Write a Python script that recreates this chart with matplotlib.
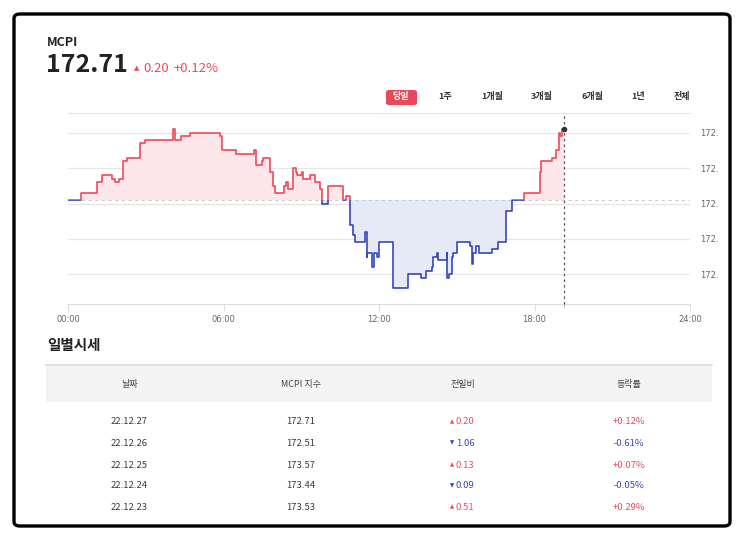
import matplotlib
matplotlib.use("Agg")
import matplotlib.pyplot as plt
from matplotlib.patches import Rectangle, FancyBboxPatch

plt.rcParams['font.family'] = ['Noto Sans CJK KR', 'DejaVu Sans']

W, H = 743, 540

# intraday MCPI (hours, index value)
times = [0.00, 0.49, 1.13, 1.30, 1.68, 1.81, 1.98, 2.12, 2.26, 2.79, 2.97, 4.05, 4.12, 4.35,
         4.70, 5.86, 5.93, 6.48, 7.18, 7.26, 7.47, 7.54, 7.80, 7.90, 7.99, 8.33, 8.40, 8.49,
         8.69, 8.80, 8.85, 9.02, 9.08, 9.34, 9.53, 9.72, 9.80, 10.05, 10.62, 10.73, 10.88,
         10.98, 11.07, 11.46, 11.52, 11.55, 11.74, 11.82, 11.91, 11.99, 12.55, 13.11, 13.61,
         13.81, 14.03, 14.10, 14.23, 14.29, 14.61, 14.64, 14.71, 14.80, 14.87, 15.02, 15.51,
         15.58, 15.64, 15.74, 15.87, 16.35, 16.60, 16.89, 17.12, 17.59, 18.21, 18.25, 18.66,
         18.82, 18.94, 18.98, 19.05, 19.14]
values = [172.51, 172.53, 172.56, 172.58, 172.57, 172.56, 172.57, 172.62, 172.63, 172.67,
          172.68, 172.71, 172.68, 172.69, 172.70, 172.69, 172.65, 172.64, 172.65, 172.61,
          172.62, 172.63, 172.59, 172.55, 172.53, 172.55, 172.56, 172.54, 172.60, 172.59,
          172.58, 172.59, 172.57, 172.58, 172.56, 172.54, 172.50, 172.55, 172.51, 172.52,
          172.44, 172.41, 172.39, 172.42, 172.35, 172.36, 172.32, 172.36, 172.35, 172.39,
          172.26, 172.30, 172.29, 172.31, 172.32, 172.35, 172.36, 172.34, 172.36, 172.29,
          172.30, 172.35, 172.36, 172.39, 172.38, 172.33, 172.36, 172.38, 172.36, 172.37,
          172.39, 172.48, 172.51, 172.53, 172.59, 172.62, 172.63, 172.65, 172.70, 172.69,
          172.71, 172.71]
prev_close = 172.51
x_ticks = [0, 6, 12, 18, 24]
x_labels = ['00:00', '06:00', '12:00', '18:00', '24:00']
y_ticks = [172.3, 172.4, 172.5, 172.6, 172.7]
periods = ['당일', '1주', '1개월', '3개월', '6개월', '1년', '전체']

# daily table
dates = ['22.12.27', '22.12.26', '22.12.25', '22.12.24', '22.12.23']
index_vals = [172.71, 172.51, 173.57, 173.44, 173.53]
changes = [0.20, -1.06, 0.13, -0.09, 0.51]
rates = [0.12, -0.61, 0.07, -0.05, 0.29]
headers = ['날짜', 'MCPI 지수', '전일비', '등락률']

RED = '#ee4a5b'
BLUE = '#3548bd'
RED_FILL = '#fde6ea'
BLUE_FILL = '#e6e9f6'
TXT = '#3a3a3a'

fig = plt.figure(figsize=(W / 100, H / 100), dpi=100)


def fx(x):
    return x / W


def fy(y):
    return 1 - y / H


# outer frame
fig.patches.append(FancyBboxPatch((fx(14), fy(526)), fx(716), 512 / H,
                                  boxstyle="round,pad=0,rounding_size=0.008",
                                  transform=fig.transFigure, fill=False,
                                  edgecolor='black', linewidth=2.4))

# header
fig.text(fx(47), fy(43), 'MCPI', fontsize=9, fontweight='bold', color='#222', va='center')
fig.text(fx(46), fy(65), '%.2f' % values[-1], fontsize=18, fontweight='bold', color='#222', va='center')
fig.text(fx(137), fy(68), '▲', fontsize=5, color=RED, ha='center', va='center', family='DejaVu Sans')
fig.text(fx(143), fy(68), '%.2f' % (values[-1] - prev_close), fontsize=9.5, fontweight='medium',
         color=RED, va='center')
fig.text(fx(174), fy(68), '+%.2f%%' % ((values[-1] - prev_close) / prev_close * 100),
         fontsize=9.5, fontweight='medium', color=RED, va='center')

# period buttons
btn_x = [401, 445, 492, 542, 592, 638, 682]
for i, (p, bx) in enumerate(zip(periods, btn_x)):
    if i == 0:
        fig.patches.append(FancyBboxPatch((fx(386), fy(105)), fx(31), 15 / H,
                                          boxstyle="round,pad=0,rounding_size=0.004",
                                          transform=fig.transFigure, facecolor='#e8485a',
                                          edgecolor='none'))
        fig.text(fx(bx), fy(97), p, fontsize=6.5, fontweight='bold', color='white',
                 ha='center', va='center')
    else:
        fig.text(fx(bx), fy(97), p, fontsize=6.5, fontweight='bold', color='#333',
                 ha='center', va='center')

# intraday chart
ax = fig.add_axes([fx(68), fy(304.3), fx(622), 191.3 / H])
ax.set_xlim(0, 24)
ax.set_ylim(172.215, 172.756)

up_clip = Rectangle((0, prev_close), 24, 10, transform=ax.transData)
dn_clip = Rectangle((0, prev_close - 10), 24, 10, transform=ax.transData)

f1 = ax.fill_between(times, values, prev_close, step='post', color=RED_FILL, lw=0, zorder=2)
f1.set_clip_path(up_clip)
f2 = ax.fill_between(times, values, prev_close, step='post', color=BLUE_FILL, lw=0, zorder=2)
f2.set_clip_path(dn_clip)
l1, = ax.plot(times, values, drawstyle='steps-post', color=RED, lw=1.2, zorder=4)
l1.set_clip_path(up_clip)
l2, = ax.plot(times, values, drawstyle='steps-post', color=BLUE, lw=1.2, zorder=4)
l2.set_clip_path(dn_clip)

ax.axhline(prev_close, color='#cccccc', lw=0.8, ls=(0, (3, 3)), zorder=3)
ax.axvline(times[-1], color='#555555', lw=0.9, ls=(0, (2, 2.5)), zorder=5, clip_on=False)
ax.plot([times[-1]], [values[-1]], 'o', color='#333333', ms=3, zorder=6)

ax.set_yticks(y_ticks)
ax.yaxis.set_major_formatter(matplotlib.ticker.FuncFormatter(lambda v, p: ('%.2f' % v)[:4]))
ax.yaxis.tick_right()
ax.tick_params(axis='y', length=0, pad=7, labelsize=6, labelcolor='#666666')
ax.grid(axis='y', color='#e6e6e6', lw=0.9, zorder=1)
ax.set_xticks(x_ticks)
ax.set_xticklabels(x_labels)
ax.set_xticks([times[-1]], minor=True)
ax.tick_params(axis='x', length=5, color='#dddddd', pad=3, labelsize=6, labelcolor='#666666')
ax.tick_params(axis='x', which='minor', length=2, color='#999999')
for s in ['left', 'right']:
    ax.spines[s].set_visible(False)
ax.spines['top'].set_color('#e6e6e6')
ax.spines['bottom'].set_color('#dddddd')
for lbl in ax.get_xticklabels() + ax.get_yticklabels():
    lbl.set_family('DejaVu Sans')

# daily table
fig.text(fx(47), fy(345), '일별시세', fontsize=10.5, fontweight='bold', color='#222', va='center')
fig.patches.append(Rectangle((fx(46), fy(402)), fx(666), 38 / H, transform=fig.transFigure,
                             facecolor='#f4f4f4', edgecolor='none'))
fig.add_artist(plt.Line2D([fx(46), fx(712)], [fy(364.5), fy(364.5)], color='#dcdcdc', lw=1.2))

col_x = [129, 301, 463, 629]
for hx, h in zip(col_x, headers):
    fig.text(fx(hx), fy(384), h, fontsize=6.5, color='#444', ha='center', va='center')

row_y = [422, 443, 465, 486, 507]
for d, iv, ch, rt, ry in zip(dates, index_vals, changes, rates, row_y):
    c = RED if ch > 0 else BLUE
    fig.text(fx(col_x[0]), fy(ry), d, fontsize=6.8, color=TXT, ha='center', va='center')
    fig.text(fx(col_x[1]), fy(ry), '%.2f' % iv, fontsize=6.8, color=TXT, ha='center', va='center')
    fig.text(fx(452), fy(ry), '▲' if ch > 0 else '▼', fontsize=4, color=c, ha='center',
             va='center', family='DejaVu Sans')
    fig.text(fx(456), fy(ry), '%.2f' % abs(ch), fontsize=6.8, color=c, ha='left', va='center')
    fig.text(fx(col_x[3]), fy(ry), '%+.2f%%' % rt, fontsize=6.8, color=c, ha='center', va='center')

fig.savefig('out.png', dpi=100)
